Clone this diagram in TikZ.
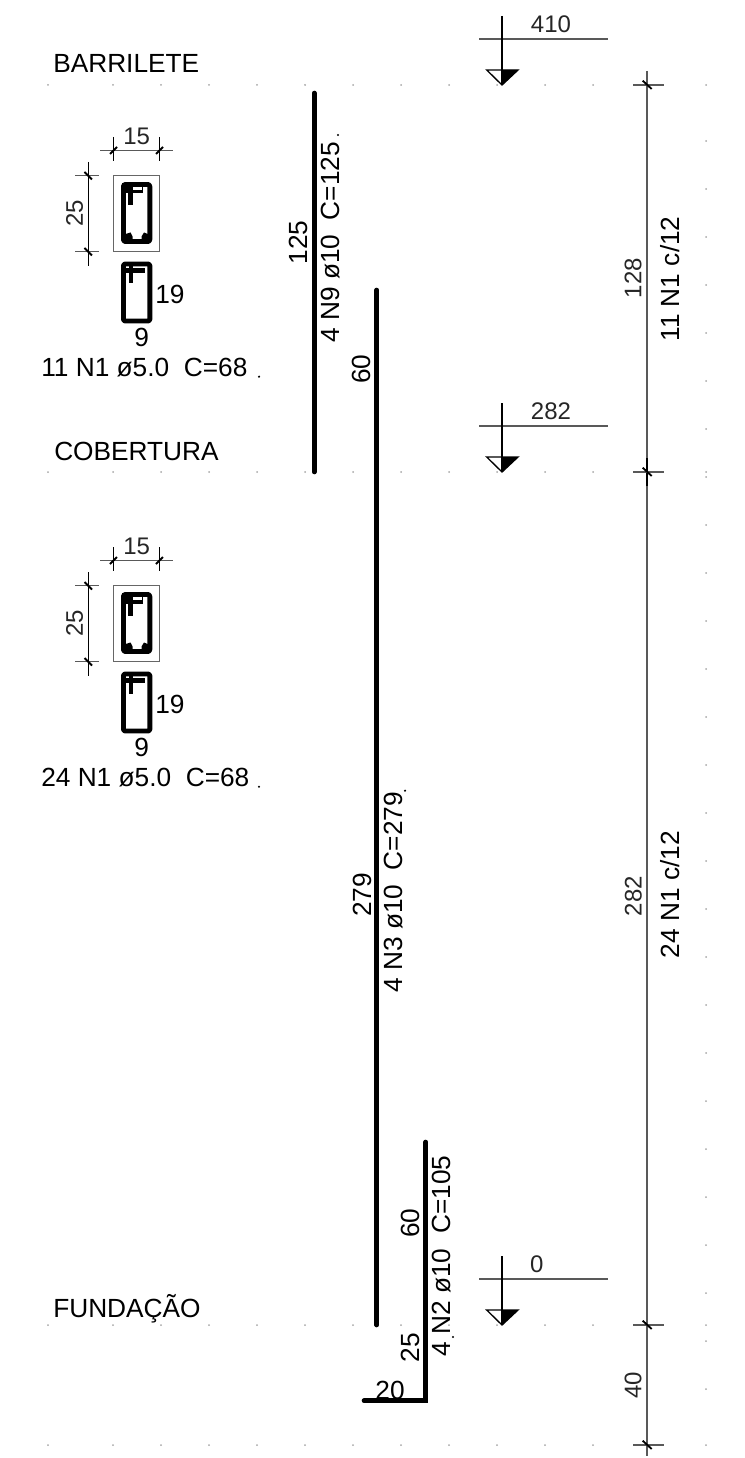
\documentclass[tikz,border=0pt]{standalone}
\usepackage{fontspec}
\setmainfont{Liberation Sans}
\tikzset{
  lab/.style={inner sep=0pt,text height=14.1pt,text depth=0pt,font=\fontsize{19.7pt}{20pt}\selectfont,text=black},
  thinlab/.style={inner sep=0pt,text height=12.9pt,text depth=0pt,font=\fontsize{18pt}{20pt}\selectfont,text=black!85},
  bar/.style={line width=3.5pt,line cap=round,line join=miter,black},
  fine/.style={line width=0.95pt,black!65},
  outline/.style={line width=0.8pt,black!60},
  slash/.style={line width=1.4pt,black},
  stir/.style={line width=3.7pt,line join=round,black},
  griddot/.style={fill=black!35,draw=none},
  speck/.style={fill=black,draw=none}
}
\newcommand{\stirrupgroup}[3]{%
  \begin{scope}[shift={(0,#1)}]
    \draw[outline] (113.3,175.7) rectangle (159.3,251.7);
    % upper dimension
    \draw[fine] (100,150.7) -- (173,150.7);
    \draw[fine,black] (113.3,137) -- (113.3,160.7);
    \draw[fine,black] (159.3,137) -- (159.3,160.7);
    \draw[slash] (110,154) -- (117,147);
    \draw[slash] (156,154) -- (163,147);
    \node[thinlab] (dimw#2) at (136.7,136) {15};
    % left dimension
    \draw[fine,black] (88.3,162) -- (88.3,265.7);
    \draw[fine] (75,175.7) -- (99,175.7);
    \draw[fine] (75,251.7) -- (99,251.7);
    \draw[slash] (84.5,172) -- (92,179.5);
    \draw[slash] (84.5,248) -- (92,255.5);
    \node[thinlab,rotate=90] (dimh#2) at (74.3,213) {25};
    % stirrup in section
    \draw[stir,rounded corners=1.5pt] (123.5,184.5) rectangle (149.8,241.5);
    \fill[black] (122,183) rectangle (143.3,193.5);
    \fill[white] (133,186.7) rectangle (142,190);
    \draw[line width=3.4pt,black] (130.7,190) -- (130.7,205.5);
    \fill[black] (124,234.5) -- (130.5,232.5) -- (132.5,236.5) -- (132.5,241) -- (124,241) -- cycle;
    \fill[black] (149,234.5) -- (144,232.5) -- (141.5,236.5) -- (141.5,241) -- (149,241) -- cycle;
    % stirrup detail
    \draw[stir,rounded corners=1pt] (123.5,264) rectangle (149.8,321);
    \draw[line width=3.4pt,black] (131,264) -- (131,283.5);
    \draw[line width=3.4pt,black] (125,270.5) -- (145,270.5);
    \node[lab,anchor=west] (side#2) at (155,294) {19};
    \node[lab] (base#2) at (141.7,337) {9};
    \node[lab,anchor=west] (spec#2) at (41,366.7) {#3\ N1 ø5.0\ \ C=68};
    \fill[speck] (259,376.7) circle (1.2);
  \end{scope}%
}
\newcommand{\levelmark}[4]{%
  % #1 tip y, #2 name, #3 text, #4 label x
  \begin{scope}[shift={(0,#1)}]
    \draw[fine,line width=1.1pt] (479,-46) -- (608,-46);
    \draw[line width=1pt,black] (502,-69) -- (502,0);
    \draw[line width=1pt,black] (486.7,-15) -- (518,-15) -- (502,0) -- cycle;
    \fill[black] (502,-15) -- (518,-15) -- (502,0) -- cycle;
    \node[thinlab] (lev#2) at (#4,-61) {#3};
  \end{scope}%
}
\newcommand{\dimtick}[1]{%
  \draw[fine] (633,#1) -- (664,#1);
  \draw[slash] (642.7,#1-4.3) -- (651.7,#1+4);
}
\begin{document}
\begin{tikzpicture}[x=0.75pt,y=-0.75pt]
\useasboundingbox (0,0) rectangle (744,1458);
% reference grid dots
\foreach \gy in {85,472,1325,1445}
  \foreach \gx in {48,113,161,209,257,305,353,401,449,497,545,593,706}
    \fill[griddot] (\gx,\gy) circle (1);
\foreach \gy in {141,189,...,1341}
  \fill[griddot] (706,\gy) circle (1);
\fill[griddot] (706,1389) circle (1);
% floor names
\node[lab,anchor=west] (barrilete) at (53,63.3) {BARRILETE};
\node[lab,anchor=west] (cobertura) at (54,450.7) {COBERTURA};
\node[lab,anchor=west] (fundacao) at (53,1308) {FUNDAÇÃO};
% column sections
\stirrupgroup{0}{a}{11}
\stirrupgroup{410}{b}{24}
% bars
\draw[bar] (314.3,93) -- (314.3,472);
\draw[bar] (376.7,290) -- (376.7,1325);
\draw[bar] (425.7,1142) -- (425.7,1400.7) -- (364,1400.7);
% bar labels
\node[lab,rotate=90] (n9len) at (298,242.5) {125};
\node[lab,rotate=90,anchor=west] (n9) at (330,343) {4 N9 ø10\ \ C=125};
\fill[speck] (338,135) circle (1.2);
\node[lab,rotate=90] (n3lap) at (361,369) {60};
\node[lab,rotate=90] (n3len) at (361.7,895) {279};
\node[lab,rotate=90,anchor=west] (n3) at (393,993) {4 N3 ø10\ \ C=279};
\fill[speck] (405,790.7) circle (1.2);
\node[lab,rotate=90] (n2lap) at (410,1223) {60};
\node[lab,rotate=90,anchor=west] (n2) at (441,1356.7) {4 N2 ø10\ \ C=105};
\fill[speck] (453,1337) circle (1.2);
\node[lab,rotate=90] (n2foot) at (410,1347.5) {25};
\node[lab] (n2hook) at (390,1390) {20};
% level marks
\levelmark{85}{a}{410}{551}
\levelmark{472}{b}{282}{551}
\levelmark{1325}{c}{0}{536.7}
% right dimension line
\draw[fine,line width=1.1pt] (647,71) -- (647,1456);
\draw[line width=1pt,black] (647,458) -- (647,486);
\dimtick{85}
\dimtick{472}
\dimtick{1325}
\dimtick{1445}
\node[thinlab,rotate=90] (d128) at (632.7,278) {128};
\node[lab,rotate=90] (s11) at (670,279) {11 N1 c/12};
\node[thinlab,rotate=90] (d282) at (633,896) {282};
\node[lab,rotate=90] (s24) at (670,894.5) {24 N1 c/12};
\node[thinlab,rotate=90] (d40) at (632.7,1385) {40};
\end{tikzpicture}
\end{document}
